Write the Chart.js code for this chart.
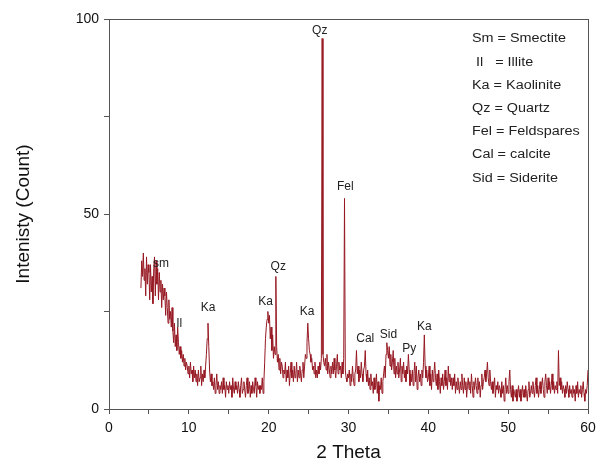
<!DOCTYPE html>
<html>
<head>
<meta charset="utf-8">
<script src="https://cdn.jsdelivr.net/npm/chart.js@4.4.1/dist/chart.umd.min.js"></script>
<style>
  html, body { margin: 0; padding: 0; background: #fff; }
</style>
</head>
<body>
<canvas id="xrd" width="596" height="468"></canvas>
<script>
// diffractogram: 2 theta from 4 to 60 in 0.1 steps
const thetaStart = 4.0;
const thetaStep = 0.1;
const intensity = [
  31, 38, 34, 40, 33, 36, 29, 39, 32, 37,   // 4
  35, 28, 37, 30, 34, 27, 36, 39, 29, 38,   // 5
  32, 36, 28, 35, 30, 33, 26, 32, 28, 31,   // 6
  29, 24, 30, 26, 22, 28, 23, 25, 21, 26,   // 7
  20, 17, 22, 16, 19, 15, 21, 17, 14, 16,   // 8
  13, 15, 12, 14, 11, 13, 10, 12, 11, 9,    // 9
  11, 8, 12, 9, 10, 7, 11, 8, 10, 7,        // 10
  9, 6, 10, 7, 8, 11, 6, 9, 7, 10,          // 11
  8, 11, 14, 18, 22, 16, 10, 7, 9, 6,       // 12
  7, 5, 8, 4, 6, 9, 5, 7, 4, 6,             // 13
  5, 7, 4, 8, 5, 6, 3, 7, 5, 6,             // 14
  4, 7, 5, 6, 3, 8, 5, 4, 7, 5,             // 15
  6, 4, 7, 5, 3, 6, 8, 4, 5, 7,             // 16
  5, 3, 6, 8, 4, 5, 7, 3, 6, 4,             // 17
  7, 5, 4, 8, 6, 3, 7, 5, 6, 4,             // 18
  6, 5, 8, 4, 7, 12, 18, 21, 23, 25,        // 19
  22, 24, 18, 21, 15, 19, 13, 16, 14, 34,   // 20
  16, 12, 14, 10, 13, 9, 12, 11, 8, 10,     // 21
  9, 12, 7, 10, 8, 11, 6, 9, 12, 8,         // 22
  10, 7, 11, 8, 9, 12, 7, 10, 8, 11,        // 23
  9, 7, 10, 12, 8, 11, 14, 13, 17, 22,      // 24
  18, 15, 14, 12, 13, 10, 11, 9, 12, 8,     // 25
  10, 8, 11, 9, 12, 10, 13, 95, 14, 12,     // 26
  11, 13, 10, 14, 9, 12, 10, 8, 11, 9,      // 27
  12, 9, 13, 10, 8, 11, 14, 9, 12, 10,      // 28
  11, 8, 12, 9, 13, 54, 10, 8, 7, 9,        // 29
  8, 10, 6, 9, 7, 11, 8, 6, 9, 10,          // 30
  15, 9, 11, 7, 10, 8, 12, 9, 7, 10,        // 31
  11, 15, 9, 7, 10, 6, 8, 5, 9, 6,          // 32
  7, 4, 8, 5, 6, 9, 4, 7, 2, 6,             // 33
  5, 8, 4, 7, 9, 11, 8, 14, 17, 15,         // 34
  13, 16, 11, 14, 10, 12, 15, 9, 13, 8,     // 35
  11, 9, 12, 8, 10, 13, 7, 11, 9, 12,       // 36
  8, 10, 7, 11, 9, 14, 10, 6, 9, 7,         // 37
  10, 6, 9, 12, 7, 11, 5, 8, 10, 7,         // 38
  9, 6, 10, 8, 12, 19, 11, 8, 10, 7,        // 39
  8, 11, 6, 9, 5, 10, 7, 9, 12, 8,          // 40
  6, 9, 5, 10, 7, 4, 8, 6, 9, 5,            // 41
  7, 10, 6, 8, 5, 11, 7, 9, 6, 8,           // 42
  5, 8, 6, 9, 4, 7, 5, 8, 6, 4,             // 43
  7, 5, 9, 6, 4, 8, 5, 7, 3, 6,             // 44
  8, 5, 7, 4, 9, 6, 3, 7, 5, 8,             // 45
  6, 4, 8, 5, 7, 3, 6, 9, 5, 7,             // 46
  8, 10, 7, 9, 12, 8, 6, 10, 7, 5,          // 47
  7, 4, 6, 8, 3, 6, 5, 7, 4, 6,             // 48
  5, 3, 7, 4, 6, 2, 5, 8, 4, 6,             // 49
  4, 7, 10, 5, 3, 6, 2, 5, 4, 3,            // 50
  5, 2, 4, 6, 3, 5, 2, 4, 6, 3,             // 51
  5, 3, 6, 4, 2, 5, 7, 3, 4, 6,             // 52
  4, 7, 5, 3, 6, 8, 4, 6, 3, 5,             // 53
  7, 4, 6, 8, 5, 3, 7, 9, 6, 4,             // 54
  8, 5, 7, 4, 6, 9, 5, 7, 4, 6,             // 55
  5, 7, 4, 15, 6, 8, 5, 7, 4, 6,            // 56
  5, 3, 6, 4, 7, 5, 3, 6, 4, 5,             // 57
  3, 6, 4, 5, 2, 6, 4, 7, 3, 5,             // 58
  4, 6, 3, 5, 7, 4, 2, 5, 4, 6,             // 59
  10                                        // 60
];

// peak labels: text, 2 theta, intensity where the label sits
const peakNames = ["sm", "Il", "Ka", "Ka", "Qz", "Ka", "Qz", "Fel", "Cal", "Sid", "Py", "Ka"];
const peakTheta = [6.5, 8.8, 12.4, 19.6, 21.2, 24.8, 26.4, 29.6, 32.1, 35.0, 37.6, 39.5];
const peakLevel = [37.2, 22, 26, 27.4, 36.4, 25, 97, 57, 18, 19, 15.4, 21];

const keyLines = ["Sm = Smectite", " Il   = Illite", "Ka = Kaolinite", "Qz = Quartz",
                  "Fel = Feldspares", "Cal = calcite", "Sid = Siderite"];

const points = intensity.map((v, i) => ({ x: +(thetaStart + i * thetaStep).toFixed(1), y: v }));

const labelPlugin = {
  id: 'labels',
  afterDraw(chart) {
    const ctx = chart.ctx;
    const xs = chart.scales.x, ys = chart.scales.y;
    const a = chart.chartArea;
    ctx.save();
    // frame on top and right
    ctx.strokeStyle = '#555';
    ctx.lineWidth = 1;
    ctx.strokeRect(a.left + 0.5, a.top + 0.5, a.right - a.left, a.bottom - a.top);
    ctx.fillStyle = '#222';
    ctx.font = '12px "Liberation Sans", Arial, sans-serif';
    ctx.textAlign = 'center';
    ctx.textBaseline = 'middle';
    peakNames.forEach((t, i) => {
      ctx.fillText(t, xs.getPixelForValue(peakTheta[i]), ys.getPixelForValue(peakLevel[i]));
    });
    // key text is a bit wide in the original
    ctx.textAlign = 'left';
    ctx.font = '12px "Liberation Sans", Arial, sans-serif';
    keyLines.forEach((t, i) => {
      ctx.save();
      ctx.translate(a.left + 363, a.top + 20 + i * 23.2);
      ctx.scale(1.2, 1);
      ctx.fillText(t, 0, 0);
      ctx.restore();
    });
    ctx.restore();
  }
};

new Chart(document.getElementById('xrd'), {
  type: 'line',
  data: {
    datasets: [{
      data: points,
      borderColor: 'rgb(150, 24, 34)',
      borderWidth: 1,
      pointRadius: 0,
      tension: 0
    }]
  },
  options: {
    responsive: false,
    animation: false,
    layout: { padding: { top: 19, right: 0, left: 0, bottom: 0 } },
    plugins: { legend: { display: false }, tooltip: { enabled: false } },
    scales: {
      x: {
        type: 'linear',
        min: 0, max: 60,
        afterFit(s) { s.height = 59; s.paddingRight = 8; },
        grid: { drawOnChartArea: false, drawTicks: true, tickLength: 5, color: '#555' },
        border: { display: true, color: '#555' },
        ticks: {
          stepSize: 5, autoSkip: false, maxRotation: 0, padding: 6,
          color: '#111', font: { size: 14, family: '"Liberation Sans", Arial, sans-serif' },
          callback: v => v % 10 === 0 ? v : ''
        },
        title: {
          display: true, text: '2 Theta', color: '#111', padding: { top: 4 },
          font: { size: 19, family: '"Liberation Sans", Arial, sans-serif' }
        }
      },
      y: {
        min: 0, max: 100,
        afterFit(s) { s.width = 109; },
        grid: { drawOnChartArea: false, drawTicks: true, tickLength: 5, color: '#555' },
        border: { display: true, color: '#555' },
        ticks: {
          stepSize: 25, autoSkip: false, padding: 5,
          color: '#111', font: { size: 14, family: '"Liberation Sans", Arial, sans-serif' },
          callback: v => v % 50 === 0 ? v : ''
        },
        title: {
          display: true, text: 'Intenisty (Count)', color: '#111', padding: { bottom: 0, top: 12 },
          font: { size: 19, family: '"Liberation Sans", Arial, sans-serif' }
        }
      }
    }
  },
  plugins: [labelPlugin]
});
</script>
</body>
</html>
